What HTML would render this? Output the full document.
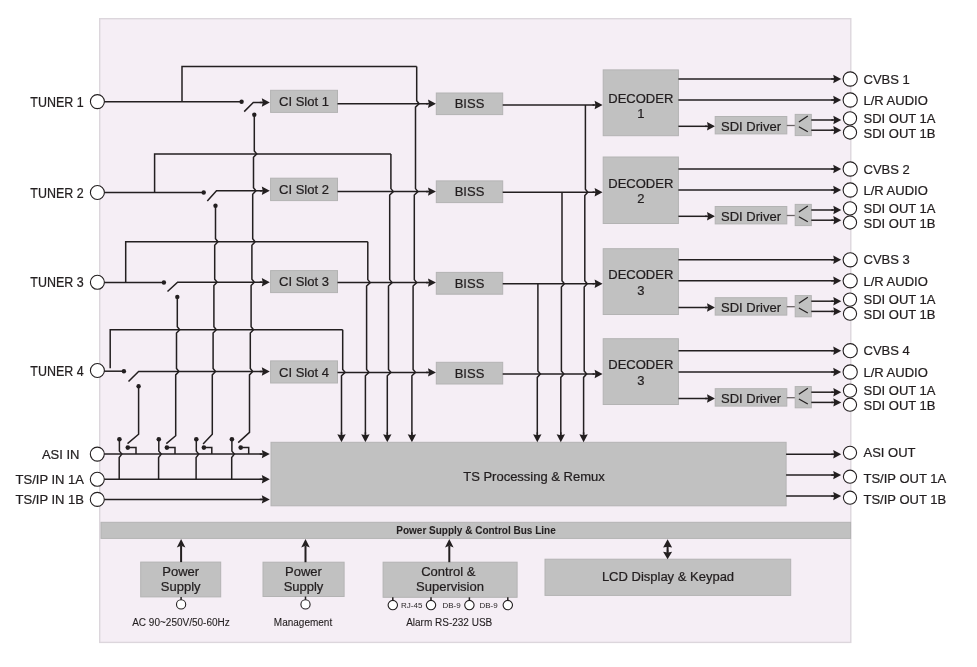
<!DOCTYPE html>
<html><head><meta charset="utf-8"><title>Block Diagram</title>
<style>
html,body{margin:0;padding:0;background:#fff;}
body{width:977px;height:667px;overflow:hidden;}
svg{display:block;font-family:"Liberation Sans",sans-serif;will-change:transform;}
text{stroke:#1e1a1b;}
</style></head>
<body>
<svg width="977" height="667" viewBox="0 0 977 667">
<rect x="99.7" y="18.7" width="751.1" height="623.7" fill="#f5eef5" stroke="#dcd6dc" stroke-width="1.4"/>
<text transform="translate(83.6 106.6) scale(0.89 1)" font-size="14" text-anchor="end" fill="#231f20" stroke-width="0.22">TUNER 1</text>
<path d="M104 101.7 L241.6 101.7" fill="none" stroke="#231f20" stroke-width="1.5" stroke-linejoin="miter"/>
<circle cx="97.4" cy="101.6" r="7.0" fill="#fff" stroke="#231f20" stroke-width="1.1"/>
<circle cx="241.6" cy="101.7" r="2.2" fill="#231f20"/>
<path d="M244.2 111.6 L253.3 102.5 L262 102.5" fill="none" stroke="#231f20" stroke-width="1.5" stroke-linejoin="miter"/>
<path d="M269.8 102.5 L261.8 98.3 L262.7 102.5 L261.8 106.7Z" fill="#231f20"/>
<path d="M259.8 102.5 L265.8 102.5" fill="none" stroke="#231f20" stroke-width="1.5" stroke-linejoin="miter"/>
<circle cx="254.3" cy="114.7" r="2.2" fill="#231f20"/>
<rect x="270.6" y="90.3" width="66.9" height="22.1" fill="#c1c1c1" stroke="#b3b3b3" stroke-width="1"/>
<text x="304" y="105.95" font-size="13" text-anchor="middle" font-weight="normal" fill="#231f20" stroke-width="0.22">CI Slot 1</text>
<path d="M337.5 103.7 L428 103.7" fill="none" stroke="#231f20" stroke-width="1.5" stroke-linejoin="miter"/>
<path d="M436 103.7 L428 99.5 L428.9 103.7 L428 107.9Z" fill="#231f20"/>
<path d="M426 103.7 L432 103.7" fill="none" stroke="#231f20" stroke-width="1.5" stroke-linejoin="miter"/>
<rect x="436.3" y="93" width="66.4" height="21.6" fill="#c1c1c1" stroke="#b3b3b3" stroke-width="1"/>
<text x="469.5" y="108.4" font-size="13" text-anchor="middle" font-weight="normal" fill="#231f20" stroke-width="0.22">BISS</text>
<path d="M502.7 105 L594.5 105" fill="none" stroke="#231f20" stroke-width="1.5" stroke-linejoin="miter"/>
<path d="M602.6 105 L594.6 100.8 L595.5 105 L594.6 109.2Z" fill="#231f20"/>
<path d="M592.6 105 L598.6 105" fill="none" stroke="#231f20" stroke-width="1.5" stroke-linejoin="miter"/>
<rect x="603.2" y="69.9" width="75.2" height="65.8" fill="#c1c1c1" stroke="#b3b3b3" stroke-width="1"/>
<text x="640.8" y="102.7" font-size="13" text-anchor="middle" font-weight="normal" fill="#231f20" stroke-width="0.22">DECODER</text>
<text x="640.8" y="117.9" font-size="13" text-anchor="middle" font-weight="normal" fill="#231f20" stroke-width="0.22">1</text>
<path d="M678.4 79 L834 79" fill="none" stroke="#231f20" stroke-width="1.5" stroke-linejoin="miter"/>
<path d="M841.2 79 L833.2 74.8 L834.1 79 L833.2 83.2Z" fill="#231f20"/>
<path d="M831.2 79 L837.2 79" fill="none" stroke="#231f20" stroke-width="1.5" stroke-linejoin="miter"/>
<circle cx="850.2" cy="79" r="7.1" fill="#fff" stroke="#231f20" stroke-width="1.1"/>
<text x="863.5" y="83.6" font-size="13" text-anchor="start" font-weight="normal" fill="#231f20" stroke-width="0.22">CVBS 1</text>
<path d="M678.4 100 L834 100" fill="none" stroke="#231f20" stroke-width="1.5" stroke-linejoin="miter"/>
<path d="M841.2 100 L833.2 95.8 L834.1 100 L833.2 104.2Z" fill="#231f20"/>
<path d="M831.2 100 L837.2 100" fill="none" stroke="#231f20" stroke-width="1.5" stroke-linejoin="miter"/>
<circle cx="850.2" cy="100" r="7.1" fill="#fff" stroke="#231f20" stroke-width="1.1"/>
<text x="863.5" y="105.4" font-size="13" text-anchor="start" font-weight="normal" fill="#231f20" stroke-width="0.22">L/R AUDIO</text>
<path d="M678.4 126.3 L707 126.3" fill="none" stroke="#231f20" stroke-width="1.5" stroke-linejoin="miter"/>
<path d="M715 126.3 L707 122.1 L707.9 126.3 L707 130.5Z" fill="#231f20"/>
<path d="M705 126.3 L711 126.3" fill="none" stroke="#231f20" stroke-width="1.5" stroke-linejoin="miter"/>
<rect x="715.2" y="116.5" width="71.6" height="17.4" fill="#c1c1c1" stroke="#b3b3b3" stroke-width="1"/>
<text x="751" y="130.9" font-size="13" text-anchor="middle" font-weight="normal" fill="#231f20" stroke-width="0.22">SDI Driver</text>
<path d="M786.8 125.5 L795.2 125.5" fill="none" stroke="#6a6466" stroke-width="1.3" stroke-linejoin="miter"/>
<rect x="795.2" y="114.4" width="16.1" height="21.2" fill="#c1c1c1" stroke="#b3b3b3" stroke-width="1"/>
<path d="M807.8 116 L798.9 122.1" fill="none" stroke="#231f20" stroke-width="1.2" stroke-linejoin="miter"/>
<path d="M798.9 126.8 L807.8 131.8" fill="none" stroke="#231f20" stroke-width="1.2" stroke-linejoin="miter"/>
<path d="M811.3 120 L833.5 120" fill="none" stroke="#231f20" stroke-width="1.5" stroke-linejoin="miter"/>
<path d="M841.3 120 L833.3 115.8 L834.2 120 L833.3 124.2Z" fill="#231f20"/>
<path d="M831.3 120 L837.3 120" fill="none" stroke="#231f20" stroke-width="1.5" stroke-linejoin="miter"/>
<path d="M811.3 130.2 L833.5 130.2" fill="none" stroke="#231f20" stroke-width="1.5" stroke-linejoin="miter"/>
<path d="M841.3 130.2 L833.3 126 L834.2 130.2 L833.3 134.4Z" fill="#231f20"/>
<path d="M831.3 130.2 L837.3 130.2" fill="none" stroke="#231f20" stroke-width="1.5" stroke-linejoin="miter"/>
<circle cx="850" cy="118.4" r="6.6" fill="#fff" stroke="#231f20" stroke-width="1.1"/>
<circle cx="850" cy="132.5" r="6.6" fill="#fff" stroke="#231f20" stroke-width="1.1"/>
<text x="863.5" y="123" font-size="13" text-anchor="start" font-weight="normal" fill="#231f20" stroke-width="0.22">SDI OUT 1A</text>
<text x="863.5" y="137.9" font-size="13" text-anchor="start" font-weight="normal" fill="#231f20" stroke-width="0.22">SDI OUT 1B</text>
<text transform="translate(83.6 197.5) scale(0.89 1)" font-size="14" text-anchor="end" fill="#231f20" stroke-width="0.22">TUNER 2</text>
<path d="M104 192.5 L203.7 192.5" fill="none" stroke="#231f20" stroke-width="1.5" stroke-linejoin="miter"/>
<circle cx="97.4" cy="192.5" r="7.0" fill="#fff" stroke="#231f20" stroke-width="1.1"/>
<circle cx="203.7" cy="192.5" r="2.2" fill="#231f20"/>
<path d="M207.3 201 L216.5 190.8 L262 190.8" fill="none" stroke="#231f20" stroke-width="1.5" stroke-linejoin="miter"/>
<path d="M269.8 190.8 L261.8 186.6 L262.7 190.8 L261.8 195Z" fill="#231f20"/>
<path d="M259.8 190.8 L265.8 190.8" fill="none" stroke="#231f20" stroke-width="1.5" stroke-linejoin="miter"/>
<circle cx="215.5" cy="205.8" r="2.2" fill="#231f20"/>
<rect x="270.6" y="178.2" width="66.9" height="22.4" fill="#c1c1c1" stroke="#b3b3b3" stroke-width="1"/>
<text x="304" y="194" font-size="13" text-anchor="middle" font-weight="normal" fill="#231f20" stroke-width="0.22">CI Slot 2</text>
<path d="M337.5 191.6 L428 191.6" fill="none" stroke="#231f20" stroke-width="1.5" stroke-linejoin="miter"/>
<path d="M436 191.6 L428 187.4 L428.9 191.6 L428 195.8Z" fill="#231f20"/>
<path d="M426 191.6 L432 191.6" fill="none" stroke="#231f20" stroke-width="1.5" stroke-linejoin="miter"/>
<rect x="436.3" y="180.9" width="66.4" height="21.7" fill="#c1c1c1" stroke="#b3b3b3" stroke-width="1"/>
<text x="469.5" y="196.35" font-size="13" text-anchor="middle" font-weight="normal" fill="#231f20" stroke-width="0.22">BISS</text>
<path d="M502.7 192.2 L594.5 192.2" fill="none" stroke="#231f20" stroke-width="1.5" stroke-linejoin="miter"/>
<path d="M602.6 192.2 L594.6 188 L595.5 192.2 L594.6 196.4Z" fill="#231f20"/>
<path d="M592.6 192.2 L598.6 192.2" fill="none" stroke="#231f20" stroke-width="1.5" stroke-linejoin="miter"/>
<rect x="603.2" y="157" width="75.2" height="66.5" fill="#c1c1c1" stroke="#b3b3b3" stroke-width="1"/>
<text x="640.8" y="187.8" font-size="13" text-anchor="middle" font-weight="normal" fill="#231f20" stroke-width="0.22">DECODER</text>
<text x="640.8" y="203" font-size="13" text-anchor="middle" font-weight="normal" fill="#231f20" stroke-width="0.22">2</text>
<path d="M678.4 169 L834 169" fill="none" stroke="#231f20" stroke-width="1.5" stroke-linejoin="miter"/>
<path d="M841.2 169 L833.2 164.8 L834.1 169 L833.2 173.2Z" fill="#231f20"/>
<path d="M831.2 169 L837.2 169" fill="none" stroke="#231f20" stroke-width="1.5" stroke-linejoin="miter"/>
<circle cx="850.2" cy="169" r="7.1" fill="#fff" stroke="#231f20" stroke-width="1.1"/>
<text x="863.5" y="173.6" font-size="13" text-anchor="start" font-weight="normal" fill="#231f20" stroke-width="0.22">CVBS 2</text>
<path d="M678.4 190 L834 190" fill="none" stroke="#231f20" stroke-width="1.5" stroke-linejoin="miter"/>
<path d="M841.2 190 L833.2 185.8 L834.1 190 L833.2 194.2Z" fill="#231f20"/>
<path d="M831.2 190 L837.2 190" fill="none" stroke="#231f20" stroke-width="1.5" stroke-linejoin="miter"/>
<circle cx="850.2" cy="190" r="7.1" fill="#fff" stroke="#231f20" stroke-width="1.1"/>
<text x="863.5" y="195.4" font-size="13" text-anchor="start" font-weight="normal" fill="#231f20" stroke-width="0.22">L/R AUDIO</text>
<path d="M678.4 216.3 L707 216.3" fill="none" stroke="#231f20" stroke-width="1.5" stroke-linejoin="miter"/>
<path d="M715 216.3 L707 212.1 L707.9 216.3 L707 220.5Z" fill="#231f20"/>
<path d="M705 216.3 L711 216.3" fill="none" stroke="#231f20" stroke-width="1.5" stroke-linejoin="miter"/>
<rect x="715.2" y="206.5" width="71.6" height="17.4" fill="#c1c1c1" stroke="#b3b3b3" stroke-width="1"/>
<text x="751" y="220.9" font-size="13" text-anchor="middle" font-weight="normal" fill="#231f20" stroke-width="0.22">SDI Driver</text>
<path d="M786.8 215.5 L795.2 215.5" fill="none" stroke="#6a6466" stroke-width="1.3" stroke-linejoin="miter"/>
<rect x="795.2" y="204.4" width="16.1" height="21.2" fill="#c1c1c1" stroke="#b3b3b3" stroke-width="1"/>
<path d="M807.8 206 L798.9 212.1" fill="none" stroke="#231f20" stroke-width="1.2" stroke-linejoin="miter"/>
<path d="M798.9 216.8 L807.8 221.8" fill="none" stroke="#231f20" stroke-width="1.2" stroke-linejoin="miter"/>
<path d="M811.3 210 L833.5 210" fill="none" stroke="#231f20" stroke-width="1.5" stroke-linejoin="miter"/>
<path d="M841.3 210 L833.3 205.8 L834.2 210 L833.3 214.2Z" fill="#231f20"/>
<path d="M831.3 210 L837.3 210" fill="none" stroke="#231f20" stroke-width="1.5" stroke-linejoin="miter"/>
<path d="M811.3 220.2 L833.5 220.2" fill="none" stroke="#231f20" stroke-width="1.5" stroke-linejoin="miter"/>
<path d="M841.3 220.2 L833.3 216 L834.2 220.2 L833.3 224.4Z" fill="#231f20"/>
<path d="M831.3 220.2 L837.3 220.2" fill="none" stroke="#231f20" stroke-width="1.5" stroke-linejoin="miter"/>
<circle cx="850" cy="208.4" r="6.6" fill="#fff" stroke="#231f20" stroke-width="1.1"/>
<circle cx="850" cy="222.5" r="6.6" fill="#fff" stroke="#231f20" stroke-width="1.1"/>
<text x="863.5" y="213" font-size="13" text-anchor="start" font-weight="normal" fill="#231f20" stroke-width="0.22">SDI OUT 1A</text>
<text x="863.5" y="227.9" font-size="13" text-anchor="start" font-weight="normal" fill="#231f20" stroke-width="0.22">SDI OUT 1B</text>
<text transform="translate(83.6 287.3) scale(0.89 1)" font-size="14" text-anchor="end" fill="#231f20" stroke-width="0.22">TUNER 3</text>
<path d="M104 282.5 L163.9 282.5" fill="none" stroke="#231f20" stroke-width="1.5" stroke-linejoin="miter"/>
<circle cx="97.4" cy="282.3" r="7.0" fill="#fff" stroke="#231f20" stroke-width="1.1"/>
<circle cx="163.9" cy="282.5" r="2.2" fill="#231f20"/>
<path d="M167.5 291.5 L177.6 282.2 L262 282.2" fill="none" stroke="#231f20" stroke-width="1.5" stroke-linejoin="miter"/>
<path d="M269.8 282.2 L261.8 278 L262.7 282.2 L261.8 286.4Z" fill="#231f20"/>
<path d="M259.8 282.2 L265.8 282.2" fill="none" stroke="#231f20" stroke-width="1.5" stroke-linejoin="miter"/>
<circle cx="177.3" cy="296.9" r="2.2" fill="#231f20"/>
<rect x="270.6" y="270.6" width="66.9" height="22" fill="#c1c1c1" stroke="#b3b3b3" stroke-width="1"/>
<text x="304" y="286.2" font-size="13" text-anchor="middle" font-weight="normal" fill="#231f20" stroke-width="0.22">CI Slot 3</text>
<path d="M337.5 282.6 L428 282.6" fill="none" stroke="#231f20" stroke-width="1.5" stroke-linejoin="miter"/>
<path d="M436 282.6 L428 278.4 L428.9 282.6 L428 286.8Z" fill="#231f20"/>
<path d="M426 282.6 L432 282.6" fill="none" stroke="#231f20" stroke-width="1.5" stroke-linejoin="miter"/>
<rect x="436.3" y="272.4" width="66.4" height="21.8" fill="#c1c1c1" stroke="#b3b3b3" stroke-width="1"/>
<text x="469.5" y="287.9" font-size="13" text-anchor="middle" font-weight="normal" fill="#231f20" stroke-width="0.22">BISS</text>
<path d="M502.7 283.7 L594.5 283.7" fill="none" stroke="#231f20" stroke-width="1.5" stroke-linejoin="miter"/>
<path d="M602.6 283.7 L594.6 279.5 L595.5 283.7 L594.6 287.9Z" fill="#231f20"/>
<path d="M592.6 283.7 L598.6 283.7" fill="none" stroke="#231f20" stroke-width="1.5" stroke-linejoin="miter"/>
<rect x="603.2" y="248.7" width="75.2" height="65.8" fill="#c1c1c1" stroke="#b3b3b3" stroke-width="1"/>
<text x="640.8" y="279.3" font-size="13" text-anchor="middle" font-weight="normal" fill="#231f20" stroke-width="0.22">DECODER</text>
<text x="640.8" y="294.5" font-size="13" text-anchor="middle" font-weight="normal" fill="#231f20" stroke-width="0.22">3</text>
<path d="M678.4 259.8 L834 259.8" fill="none" stroke="#231f20" stroke-width="1.5" stroke-linejoin="miter"/>
<path d="M841.2 259.8 L833.2 255.6 L834.1 259.8 L833.2 264Z" fill="#231f20"/>
<path d="M831.2 259.8 L837.2 259.8" fill="none" stroke="#231f20" stroke-width="1.5" stroke-linejoin="miter"/>
<circle cx="850.2" cy="259.8" r="7.1" fill="#fff" stroke="#231f20" stroke-width="1.1"/>
<text x="863.5" y="264.4" font-size="13" text-anchor="start" font-weight="normal" fill="#231f20" stroke-width="0.22">CVBS 3</text>
<path d="M678.4 280.8 L834 280.8" fill="none" stroke="#231f20" stroke-width="1.5" stroke-linejoin="miter"/>
<path d="M841.2 280.8 L833.2 276.6 L834.1 280.8 L833.2 285Z" fill="#231f20"/>
<path d="M831.2 280.8 L837.2 280.8" fill="none" stroke="#231f20" stroke-width="1.5" stroke-linejoin="miter"/>
<circle cx="850.2" cy="280.8" r="7.1" fill="#fff" stroke="#231f20" stroke-width="1.1"/>
<text x="863.5" y="286.2" font-size="13" text-anchor="start" font-weight="normal" fill="#231f20" stroke-width="0.22">L/R AUDIO</text>
<path d="M678.4 307.5 L707 307.5" fill="none" stroke="#231f20" stroke-width="1.5" stroke-linejoin="miter"/>
<path d="M715 307.5 L707 303.3 L707.9 307.5 L707 311.7Z" fill="#231f20"/>
<path d="M705 307.5 L711 307.5" fill="none" stroke="#231f20" stroke-width="1.5" stroke-linejoin="miter"/>
<rect x="715.2" y="297.7" width="71.6" height="17.4" fill="#c1c1c1" stroke="#b3b3b3" stroke-width="1"/>
<text x="751" y="312.1" font-size="13" text-anchor="middle" font-weight="normal" fill="#231f20" stroke-width="0.22">SDI Driver</text>
<path d="M786.8 306.7 L795.2 306.7" fill="none" stroke="#6a6466" stroke-width="1.3" stroke-linejoin="miter"/>
<rect x="795.2" y="295.6" width="16.1" height="21.2" fill="#c1c1c1" stroke="#b3b3b3" stroke-width="1"/>
<path d="M807.8 297.2 L798.9 303.3" fill="none" stroke="#231f20" stroke-width="1.2" stroke-linejoin="miter"/>
<path d="M798.9 308 L807.8 313" fill="none" stroke="#231f20" stroke-width="1.2" stroke-linejoin="miter"/>
<path d="M811.3 301.2 L833.5 301.2" fill="none" stroke="#231f20" stroke-width="1.5" stroke-linejoin="miter"/>
<path d="M841.3 301.2 L833.3 297 L834.2 301.2 L833.3 305.4Z" fill="#231f20"/>
<path d="M831.3 301.2 L837.3 301.2" fill="none" stroke="#231f20" stroke-width="1.5" stroke-linejoin="miter"/>
<path d="M811.3 311.4 L833.5 311.4" fill="none" stroke="#231f20" stroke-width="1.5" stroke-linejoin="miter"/>
<path d="M841.3 311.4 L833.3 307.2 L834.2 311.4 L833.3 315.6Z" fill="#231f20"/>
<path d="M831.3 311.4 L837.3 311.4" fill="none" stroke="#231f20" stroke-width="1.5" stroke-linejoin="miter"/>
<circle cx="850" cy="299.6" r="6.6" fill="#fff" stroke="#231f20" stroke-width="1.1"/>
<circle cx="850" cy="313.7" r="6.6" fill="#fff" stroke="#231f20" stroke-width="1.1"/>
<text x="863.5" y="304.2" font-size="13" text-anchor="start" font-weight="normal" fill="#231f20" stroke-width="0.22">SDI OUT 1A</text>
<text x="863.5" y="319.1" font-size="13" text-anchor="start" font-weight="normal" fill="#231f20" stroke-width="0.22">SDI OUT 1B</text>
<text transform="translate(83.6 375.5) scale(0.89 1)" font-size="14" text-anchor="end" fill="#231f20" stroke-width="0.22">TUNER 4</text>
<path d="M104 371.2 L123.9 371.2" fill="none" stroke="#231f20" stroke-width="1.5" stroke-linejoin="miter"/>
<circle cx="97.4" cy="370.5" r="7.0" fill="#fff" stroke="#231f20" stroke-width="1.1"/>
<circle cx="123.9" cy="371.2" r="2.2" fill="#231f20"/>
<path d="M128.5 381.5 L138.6 371.5 L262 371.5" fill="none" stroke="#231f20" stroke-width="1.5" stroke-linejoin="miter"/>
<path d="M269.8 371.5 L261.8 367.3 L262.7 371.5 L261.8 375.7Z" fill="#231f20"/>
<path d="M259.8 371.5 L265.8 371.5" fill="none" stroke="#231f20" stroke-width="1.5" stroke-linejoin="miter"/>
<circle cx="138.6" cy="386.3" r="2.2" fill="#231f20"/>
<rect x="270.6" y="360.9" width="66.9" height="22.1" fill="#c1c1c1" stroke="#b3b3b3" stroke-width="1"/>
<text x="304" y="376.55" font-size="13" text-anchor="middle" font-weight="normal" fill="#231f20" stroke-width="0.22">CI Slot 4</text>
<path d="M337.5 372.4 L428 372.4" fill="none" stroke="#231f20" stroke-width="1.5" stroke-linejoin="miter"/>
<path d="M436 372.4 L428 368.2 L428.9 372.4 L428 376.6Z" fill="#231f20"/>
<path d="M426 372.4 L432 372.4" fill="none" stroke="#231f20" stroke-width="1.5" stroke-linejoin="miter"/>
<rect x="436.3" y="362.3" width="66.4" height="21.7" fill="#c1c1c1" stroke="#b3b3b3" stroke-width="1"/>
<text x="469.5" y="377.75" font-size="13" text-anchor="middle" font-weight="normal" fill="#231f20" stroke-width="0.22">BISS</text>
<path d="M502.7 374 L594.5 374" fill="none" stroke="#231f20" stroke-width="1.5" stroke-linejoin="miter"/>
<path d="M602.6 374 L594.6 369.8 L595.5 374 L594.6 378.2Z" fill="#231f20"/>
<path d="M592.6 374 L598.6 374" fill="none" stroke="#231f20" stroke-width="1.5" stroke-linejoin="miter"/>
<rect x="603.2" y="338.7" width="75.2" height="65.8" fill="#c1c1c1" stroke="#b3b3b3" stroke-width="1"/>
<text x="640.8" y="369.3" font-size="13" text-anchor="middle" font-weight="normal" fill="#231f20" stroke-width="0.22">DECODER</text>
<text x="640.8" y="384.5" font-size="13" text-anchor="middle" font-weight="normal" fill="#231f20" stroke-width="0.22">3</text>
<path d="M678.4 350.7 L834 350.7" fill="none" stroke="#231f20" stroke-width="1.5" stroke-linejoin="miter"/>
<path d="M841.2 350.7 L833.2 346.5 L834.1 350.7 L833.2 354.9Z" fill="#231f20"/>
<path d="M831.2 350.7 L837.2 350.7" fill="none" stroke="#231f20" stroke-width="1.5" stroke-linejoin="miter"/>
<circle cx="850.2" cy="350.7" r="7.1" fill="#fff" stroke="#231f20" stroke-width="1.1"/>
<text x="863.5" y="355.3" font-size="13" text-anchor="start" font-weight="normal" fill="#231f20" stroke-width="0.22">CVBS 4</text>
<path d="M678.4 372 L834 372" fill="none" stroke="#231f20" stroke-width="1.5" stroke-linejoin="miter"/>
<path d="M841.2 372 L833.2 367.8 L834.1 372 L833.2 376.2Z" fill="#231f20"/>
<path d="M831.2 372 L837.2 372" fill="none" stroke="#231f20" stroke-width="1.5" stroke-linejoin="miter"/>
<circle cx="850.2" cy="372" r="7.1" fill="#fff" stroke="#231f20" stroke-width="1.1"/>
<text x="863.5" y="377.4" font-size="13" text-anchor="start" font-weight="normal" fill="#231f20" stroke-width="0.22">L/R AUDIO</text>
<path d="M678.4 398.5 L707 398.5" fill="none" stroke="#231f20" stroke-width="1.5" stroke-linejoin="miter"/>
<path d="M715 398.5 L707 394.3 L707.9 398.5 L707 402.7Z" fill="#231f20"/>
<path d="M705 398.5 L711 398.5" fill="none" stroke="#231f20" stroke-width="1.5" stroke-linejoin="miter"/>
<rect x="715.2" y="388.7" width="71.6" height="17.4" fill="#c1c1c1" stroke="#b3b3b3" stroke-width="1"/>
<text x="751" y="403.1" font-size="13" text-anchor="middle" font-weight="normal" fill="#231f20" stroke-width="0.22">SDI Driver</text>
<path d="M786.8 397.7 L795.2 397.7" fill="none" stroke="#6a6466" stroke-width="1.3" stroke-linejoin="miter"/>
<rect x="795.2" y="386.6" width="16.1" height="21.2" fill="#c1c1c1" stroke="#b3b3b3" stroke-width="1"/>
<path d="M807.8 388.2 L798.9 394.3" fill="none" stroke="#231f20" stroke-width="1.2" stroke-linejoin="miter"/>
<path d="M798.9 399 L807.8 404" fill="none" stroke="#231f20" stroke-width="1.2" stroke-linejoin="miter"/>
<path d="M811.3 392.2 L833.5 392.2" fill="none" stroke="#231f20" stroke-width="1.5" stroke-linejoin="miter"/>
<path d="M841.3 392.2 L833.3 388 L834.2 392.2 L833.3 396.4Z" fill="#231f20"/>
<path d="M831.3 392.2 L837.3 392.2" fill="none" stroke="#231f20" stroke-width="1.5" stroke-linejoin="miter"/>
<path d="M811.3 402.4 L833.5 402.4" fill="none" stroke="#231f20" stroke-width="1.5" stroke-linejoin="miter"/>
<path d="M841.3 402.4 L833.3 398.2 L834.2 402.4 L833.3 406.6Z" fill="#231f20"/>
<path d="M831.3 402.4 L837.3 402.4" fill="none" stroke="#231f20" stroke-width="1.5" stroke-linejoin="miter"/>
<circle cx="850" cy="390.6" r="6.6" fill="#fff" stroke="#231f20" stroke-width="1.1"/>
<circle cx="850" cy="404.7" r="6.6" fill="#fff" stroke="#231f20" stroke-width="1.1"/>
<text x="863.5" y="395.2" font-size="13" text-anchor="start" font-weight="normal" fill="#231f20" stroke-width="0.22">SDI OUT 1A</text>
<text x="863.5" y="410.1" font-size="13" text-anchor="start" font-weight="normal" fill="#231f20" stroke-width="0.22">SDI OUT 1B</text>
<path d="M182 101.7 L182 66.4 L416.7 66.4" fill="none" stroke="#231f20" stroke-width="1.5" stroke-linejoin="miter"/>
<path d="M416.7 66.4 L416.7 100.7 L419.1 103.7 L415.5 107.1 L415.5 188.6 L417.9 191.6 L414.3 195 L414.3 279.6 L416.7 282.6 L413.1 286 L413.1 369.4 L415.5 372.4 L411.9 375.8 L411.9 435.8" fill="none" stroke="#231f20" stroke-width="1.5" stroke-linejoin="miter"/>
<path d="M411.9 442.3 L407.7 434.3 L411.9 435.2 L416.1 434.3Z" fill="#231f20"/>
<path d="M411.9 432.3 L411.9 438.3" fill="none" stroke="#231f20" stroke-width="1.5" stroke-linejoin="miter"/>
<path d="M154.6 192.5 L154.6 153.9 L390.9 153.9" fill="none" stroke="#231f20" stroke-width="1.5" stroke-linejoin="miter"/>
<path d="M390.9 153.9 L390.9 188.6 L393.3 191.6 L389.7 195 L389.7 279.6 L392.1 282.6 L388.5 286 L388.5 369.4 L390.9 372.4 L387.3 375.8 L387.3 435.8" fill="none" stroke="#231f20" stroke-width="1.5" stroke-linejoin="miter"/>
<path d="M387.3 442.3 L383.1 434.3 L387.3 435.2 L391.5 434.3Z" fill="#231f20"/>
<path d="M387.3 432.3 L387.3 438.3" fill="none" stroke="#231f20" stroke-width="1.5" stroke-linejoin="miter"/>
<path d="M125.7 282.5 L125.7 241.8 L367.8 241.8" fill="none" stroke="#231f20" stroke-width="1.5" stroke-linejoin="miter"/>
<path d="M367.8 241.8 L367.8 279.6 L370.2 282.6 L366.6 286 L366.6 369.4 L369 372.4 L365.4 375.8 L365.4 435.8" fill="none" stroke="#231f20" stroke-width="1.5" stroke-linejoin="miter"/>
<path d="M365.4 442.3 L361.2 434.3 L365.4 435.2 L369.6 434.3Z" fill="#231f20"/>
<path d="M365.4 432.3 L365.4 438.3" fill="none" stroke="#231f20" stroke-width="1.5" stroke-linejoin="miter"/>
<path d="M110.2 368.2 L110.2 329.7 L342.7 329.7" fill="none" stroke="#231f20" stroke-width="1.5" stroke-linejoin="miter"/>
<path d="M342.7 329.7 L342.7 369.4 L345.1 372.4 L341.5 375.8 L341.5 435.8" fill="none" stroke="#231f20" stroke-width="1.5" stroke-linejoin="miter"/>
<path d="M341.5 442.3 L337.3 434.3 L341.5 435.2 L345.7 434.3Z" fill="#231f20"/>
<path d="M341.5 432.3 L341.5 438.3" fill="none" stroke="#231f20" stroke-width="1.5" stroke-linejoin="miter"/>
<path d="M254.3 114.7 L254.3 150.9 L256.7 153.9 L253.5 157.3 L253.5 187.8 L255.9 190.8 L252.7 194.2 L252.7 238.8 L255.1 241.8 L251.9 245.2 L251.9 279.2 L254.3 282.2 L251.1 285.6 L251.1 326.7 L253.5 329.7 L250.3 333.1 L250.3 368.5 L252.7 371.5 L249.5 374.9 L249.5 432.4 L238.2 442.6" fill="none" stroke="#231f20" stroke-width="1.5" stroke-linejoin="miter"/>
<path d="M215.5 205.8 L215.5 238.8 L217.9 241.8 L214.7 245.2 L214.7 279.2 L217.1 282.2 L213.9 285.6 L213.9 326.7 L216.3 329.7 L213.1 333.1 L213.1 368.5 L215.5 371.5 L212.3 374.9 L212.3 434.2 L203.1 443.9" fill="none" stroke="#231f20" stroke-width="1.5" stroke-linejoin="miter"/>
<path d="M177.3 296.9 L177.3 326.7 L179.7 329.7 L176.5 333.1 L176.5 368.5 L178.9 371.5 L175.7 374.9 L175.7 435.7 L166.3 443.6" fill="none" stroke="#231f20" stroke-width="1.5" stroke-linejoin="miter"/>
<path d="M138.6 386.3 L138.6 434.2 L127.5 443.6" fill="none" stroke="#231f20" stroke-width="1.5" stroke-linejoin="miter"/>
<text x="79.5" y="458.7" font-size="13" text-anchor="end" font-weight="normal" fill="#231f20" stroke-width="0.22">ASI IN</text>
<path d="M104 454.1 L262 454.1" fill="none" stroke="#231f20" stroke-width="1.5" stroke-linejoin="miter"/>
<circle cx="97.3" cy="454.1" r="7.0" fill="#fff" stroke="#231f20" stroke-width="1.1"/>
<path d="M269.8 454.1 L261.8 449.9 L262.7 454.1 L261.8 458.3Z" fill="#231f20"/>
<path d="M259.8 454.1 L265.8 454.1" fill="none" stroke="#231f20" stroke-width="1.5" stroke-linejoin="miter"/>
<text x="84" y="483.9" font-size="13" text-anchor="end" font-weight="normal" fill="#231f20" stroke-width="0.22">TS/IP IN 1A</text>
<path d="M104 479.3 L262 479.3" fill="none" stroke="#231f20" stroke-width="1.5" stroke-linejoin="miter"/>
<circle cx="97.3" cy="479.3" r="7.0" fill="#fff" stroke="#231f20" stroke-width="1.1"/>
<path d="M269.8 479.3 L261.8 475.1 L262.7 479.3 L261.8 483.5Z" fill="#231f20"/>
<path d="M259.8 479.3 L265.8 479.3" fill="none" stroke="#231f20" stroke-width="1.5" stroke-linejoin="miter"/>
<text x="84" y="504" font-size="13" text-anchor="end" font-weight="normal" fill="#231f20" stroke-width="0.22">TS/IP IN 1B</text>
<path d="M104 499.4 L262 499.4" fill="none" stroke="#231f20" stroke-width="1.5" stroke-linejoin="miter"/>
<circle cx="97.3" cy="499.4" r="7.0" fill="#fff" stroke="#231f20" stroke-width="1.1"/>
<path d="M269.8 499.4 L261.8 495.2 L262.7 499.4 L261.8 503.6Z" fill="#231f20"/>
<path d="M259.8 499.4 L265.8 499.4" fill="none" stroke="#231f20" stroke-width="1.5" stroke-linejoin="miter"/>
<circle cx="119.4" cy="439.2" r="2.3" fill="#231f20"/>
<path d="M119.4 439.2 L119.4 451.1 L121.8 454.1 L119.2 457.5 L119.2 479.3" fill="none" stroke="#231f20" stroke-width="1.5" stroke-linejoin="miter"/>
<circle cx="127.8" cy="447.6" r="2.3" fill="#231f20"/>
<path d="M127.8 447.6 L136 447.6 L136 454.1" fill="none" stroke="#231f20" stroke-width="1.5" stroke-linejoin="miter"/>
<circle cx="158.8" cy="439.2" r="2.3" fill="#231f20"/>
<path d="M158.8 439.2 L158.8 451.1 L161.2 454.1 L158.6 457.5 L158.6 479.3" fill="none" stroke="#231f20" stroke-width="1.5" stroke-linejoin="miter"/>
<circle cx="166.9" cy="447.6" r="2.3" fill="#231f20"/>
<path d="M166.9 447.6 L175 447.6 L175 454.1" fill="none" stroke="#231f20" stroke-width="1.5" stroke-linejoin="miter"/>
<circle cx="196.3" cy="439.2" r="2.3" fill="#231f20"/>
<path d="M196.3 439.2 L196.3 451.1 L198.7 454.1 L196.1 457.5 L196.1 479.3" fill="none" stroke="#231f20" stroke-width="1.5" stroke-linejoin="miter"/>
<circle cx="203.9" cy="447.6" r="2.3" fill="#231f20"/>
<path d="M203.9 447.6 L211.8 447.6 L211.8 454.1" fill="none" stroke="#231f20" stroke-width="1.5" stroke-linejoin="miter"/>
<circle cx="231.9" cy="439.2" r="2.3" fill="#231f20"/>
<path d="M231.9 439.2 L231.9 451.1 L234.3 454.1 L231.7 457.5 L231.7 479.3" fill="none" stroke="#231f20" stroke-width="1.5" stroke-linejoin="miter"/>
<circle cx="240.7" cy="447.6" r="2.3" fill="#231f20"/>
<path d="M240.7 447.6 L248.7 447.6 L248.7 454.1" fill="none" stroke="#231f20" stroke-width="1.5" stroke-linejoin="miter"/>
<rect x="271" y="442.3" width="515.1" height="63.5" fill="#c1c1c1" stroke="#b3b3b3" stroke-width="1"/>
<text x="534" y="481.3" font-size="13" text-anchor="middle" font-weight="normal" fill="#231f20" stroke-width="0.22">TS Processing &amp; Remux</text>
<path d="M585.4 105 L585.4 189.2 L587.8 192.2 L584.8 195.6 L584.8 280.7 L587.2 283.7 L584.2 287.1 L584.2 371 L586.6 374 L583.6 377.4 L583.6 435.8" fill="none" stroke="#231f20" stroke-width="1.5" stroke-linejoin="miter"/>
<path d="M583.6 442.3 L579.4 434.3 L583.6 435.2 L587.8 434.3Z" fill="#231f20"/>
<path d="M583.6 432.3 L583.6 438.3" fill="none" stroke="#231f20" stroke-width="1.5" stroke-linejoin="miter"/>
<path d="M562 192.2 L562 280.7 L564.4 283.7 L561.4 287.1 L561.4 371 L563.8 374 L560.8 377.4 L560.8 435.8" fill="none" stroke="#231f20" stroke-width="1.5" stroke-linejoin="miter"/>
<path d="M560.8 442.3 L556.6 434.3 L560.8 435.2 L565 434.3Z" fill="#231f20"/>
<path d="M560.8 432.3 L560.8 438.3" fill="none" stroke="#231f20" stroke-width="1.5" stroke-linejoin="miter"/>
<path d="M537.9 283.7 L537.9 371 L540.3 374 L537.3 377.4 L537.3 435.8" fill="none" stroke="#231f20" stroke-width="1.5" stroke-linejoin="miter"/>
<path d="M537.3 442.3 L533.1 434.3 L537.3 435.2 L541.5 434.3Z" fill="#231f20"/>
<path d="M537.3 432.3 L537.3 438.3" fill="none" stroke="#231f20" stroke-width="1.5" stroke-linejoin="miter"/>
<path d="M786.1 454.3 L834 454.3" fill="none" stroke="#231f20" stroke-width="1.5" stroke-linejoin="miter"/>
<path d="M841.2 454.3 L833.2 450.1 L834.1 454.3 L833.2 458.5Z" fill="#231f20"/>
<path d="M831.2 454.3 L837.2 454.3" fill="none" stroke="#231f20" stroke-width="1.5" stroke-linejoin="miter"/>
<circle cx="850" cy="452.8" r="6.6" fill="#fff" stroke="#231f20" stroke-width="1.1"/>
<text x="863.5" y="456.8" font-size="13" text-anchor="start" font-weight="normal" fill="#231f20" stroke-width="0.22">ASI OUT</text>
<path d="M786.1 475.1 L834 475.1" fill="none" stroke="#231f20" stroke-width="1.5" stroke-linejoin="miter"/>
<path d="M841.2 475.1 L833.2 470.9 L834.1 475.1 L833.2 479.3Z" fill="#231f20"/>
<path d="M831.2 475.1 L837.2 475.1" fill="none" stroke="#231f20" stroke-width="1.5" stroke-linejoin="miter"/>
<circle cx="850" cy="476.7" r="6.6" fill="#fff" stroke="#231f20" stroke-width="1.1"/>
<text x="863.5" y="482.9" font-size="13" text-anchor="start" font-weight="normal" fill="#231f20" stroke-width="0.22">TS/IP OUT 1A</text>
<path d="M786.1 496.1 L834 496.1" fill="none" stroke="#231f20" stroke-width="1.5" stroke-linejoin="miter"/>
<path d="M841.2 496.1 L833.2 491.9 L834.1 496.1 L833.2 500.3Z" fill="#231f20"/>
<path d="M831.2 496.1 L837.2 496.1" fill="none" stroke="#231f20" stroke-width="1.5" stroke-linejoin="miter"/>
<circle cx="850" cy="497.7" r="6.6" fill="#fff" stroke="#231f20" stroke-width="1.1"/>
<text x="863.5" y="503.5" font-size="13" text-anchor="start" font-weight="normal" fill="#231f20" stroke-width="0.22">TS/IP OUT 1B</text>
<rect x="101" y="522.3" width="749.6" height="16.1" fill="#c1c1c1" stroke="#b3b3b3" stroke-width="1"/>
<text x="476" y="533.5" font-size="10" text-anchor="middle" font-weight="bold" fill="#231f20" stroke-width="0.05">Power Supply &amp; Control Bus Line</text>
<rect x="140.7" y="562.1" width="80" height="34.8" fill="#c1c1c1" stroke="#b3b3b3" stroke-width="1"/>
<text x="180.7" y="575.5" font-size="13" text-anchor="middle" font-weight="normal" fill="#231f20" stroke-width="0.22">Power</text>
<text x="180.7" y="590.7" font-size="13" text-anchor="middle" font-weight="normal" fill="#231f20" stroke-width="0.22">Supply</text>
<path d="M181.1 562.1 L181.1 546" fill="none" stroke="#231f20" stroke-width="2.0" stroke-linejoin="miter"/>
<path d="M181.1 539 L176.8 547.5 L181.1 545.7 L185.4 547.5Z" fill="#231f20"/>
<path d="M181.1 596.9 L181.1 600" fill="none" stroke="#231f20" stroke-width="1.5" stroke-linejoin="miter"/>
<circle cx="181.1" cy="604.4" r="4.6" fill="#fff" stroke="#231f20" stroke-width="1.1"/>
<text x="181" y="625.7" font-size="10" text-anchor="middle" font-weight="normal" fill="#231f20" stroke-width="0.1">AC 90~250V/50-60Hz</text>
<rect x="263" y="562.2" width="81.1" height="34.3" fill="#c1c1c1" stroke="#b3b3b3" stroke-width="1"/>
<text x="303.5" y="575.5" font-size="13" text-anchor="middle" font-weight="normal" fill="#231f20" stroke-width="0.22">Power</text>
<text x="303.5" y="590.7" font-size="13" text-anchor="middle" font-weight="normal" fill="#231f20" stroke-width="0.22">Supply</text>
<path d="M305.5 562.2 L305.5 546" fill="none" stroke="#231f20" stroke-width="2.0" stroke-linejoin="miter"/>
<path d="M305.5 539 L301.2 547.5 L305.5 545.7 L309.8 547.5Z" fill="#231f20"/>
<path d="M305.5 596.5 L305.5 600" fill="none" stroke="#231f20" stroke-width="1.5" stroke-linejoin="miter"/>
<circle cx="305.5" cy="604.4" r="4.6" fill="#fff" stroke="#231f20" stroke-width="1.1"/>
<text x="303" y="625.7" font-size="10" text-anchor="middle" font-weight="normal" fill="#231f20" stroke-width="0.1">Management</text>
<rect x="383.1" y="562.2" width="134" height="35.1" fill="#c1c1c1" stroke="#b3b3b3" stroke-width="1"/>
<text x="448.3" y="575.7" font-size="13" text-anchor="middle" font-weight="normal" fill="#231f20" stroke-width="0.22">Control &amp;</text>
<text x="450" y="590.9" font-size="13" text-anchor="middle" font-weight="normal" fill="#231f20" stroke-width="0.22">Supervision</text>
<path d="M449.3 562.2 L449.3 546" fill="none" stroke="#231f20" stroke-width="2.0" stroke-linejoin="miter"/>
<path d="M449.3 539 L445 547.5 L449.3 545.7 L453.6 547.5Z" fill="#231f20"/>
<path d="M392.8 597.3 L392.8 600.5" fill="none" stroke="#231f20" stroke-width="1.5" stroke-linejoin="miter"/>
<circle cx="392.8" cy="605.1" r="4.7" fill="#fff" stroke="#231f20" stroke-width="1.1"/>
<path d="M431 597.3 L431 600.5" fill="none" stroke="#231f20" stroke-width="1.5" stroke-linejoin="miter"/>
<circle cx="431" cy="605.1" r="4.7" fill="#fff" stroke="#231f20" stroke-width="1.1"/>
<path d="M469.4 597.3 L469.4 600.5" fill="none" stroke="#231f20" stroke-width="1.5" stroke-linejoin="miter"/>
<circle cx="469.4" cy="605.1" r="4.7" fill="#fff" stroke="#231f20" stroke-width="1.1"/>
<path d="M507.8 597.3 L507.8 600.5" fill="none" stroke="#231f20" stroke-width="1.5" stroke-linejoin="miter"/>
<circle cx="507.8" cy="605.1" r="4.7" fill="#fff" stroke="#231f20" stroke-width="1.1"/>
<text x="411.7" y="608" font-size="8" text-anchor="middle" font-weight="normal" fill="#231f20" stroke-width="0">RJ-45</text>
<text x="451.5" y="608" font-size="8" text-anchor="middle" font-weight="normal" fill="#231f20" stroke-width="0">DB-9</text>
<text x="488.6" y="608" font-size="8" text-anchor="middle" font-weight="normal" fill="#231f20" stroke-width="0">DB-9</text>
<text x="449.2" y="626" font-size="10" text-anchor="middle" font-weight="normal" fill="#231f20" stroke-width="0.1">Alarm RS-232 USB</text>
<rect x="545" y="559.2" width="245.7" height="36.2" fill="#c1c1c1" stroke="#b3b3b3" stroke-width="1"/>
<text x="668" y="581.4" font-size="13" text-anchor="middle" font-weight="normal" fill="#231f20" stroke-width="0.22">LCD Display &amp; Keypad</text>
<path d="M667.6 546 L667.6 552.5" fill="none" stroke="#231f20" stroke-width="2.0" stroke-linejoin="miter"/>
<path d="M667.6 539.3 L663.1 547.5 L667.6 546.7 L672.1 547.5Z" fill="#231f20"/>
<path d="M667.6 559.2 L663.1 551.7 L667.6 552.5 L672.1 551.7Z" fill="#231f20"/>
<path d="M667.6 549.7 L667.6 555.45" fill="none" stroke="#231f20" stroke-width="1.5" stroke-linejoin="miter"/>
</svg>
</body></html>
